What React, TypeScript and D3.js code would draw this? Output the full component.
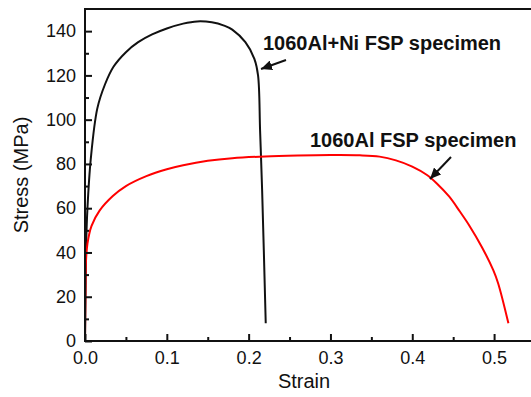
import React, { useEffect, useRef } from "react";
import * as d3 from "d3";

// 1060Al+Ni FSP specimen (strain, stress MPa)
const niStrain = [0, 0.0008, 0.0015, 0.003, 0.007, 0.015, 0.0245, 0.035, 0.05, 0.065, 0.082, 0.1, 0.12, 0.137, 0.155, 0.17, 0.18, 0.196, 0.207, 0.2115, 0.214, 0.2165, 0.2209];
const niStress = [0, 25, 45, 60, 82, 105, 116, 124, 130.5, 135, 138.5, 141.2, 143.4, 144.4, 144, 142.5, 140.7, 135, 127.5, 120, 95, 68, 8];

// 1060Al FSP specimen
const alStrain = [0, 0.0005, 0.0012, 0.003, 0.008, 0.018, 0.034, 0.05, 0.075, 0.1, 0.12, 0.15, 0.18, 0.22, 0.26, 0.3, 0.336, 0.36, 0.38, 0.4, 0.418, 0.43, 0.445, 0.458, 0.47, 0.485, 0.499, 0.505, 0.5175];
const alStress = [0, 20, 36, 44, 52, 59, 65.5, 70, 74.5, 77.6, 79.4, 81.4, 82.6, 83.4, 83.8, 84, 83.9, 83.3, 81.6, 78.8, 75, 71.2, 65.3, 58.6, 52, 42.5, 32, 26, 8];

const xTicks = [0, 0.1, 0.2, 0.3, 0.4, 0.5];
const xMinor = [0.05, 0.15, 0.25, 0.35, 0.45];
const yTicks = [0, 20, 40, 60, 80, 100, 120, 140];
const yMinor = [10, 30, 50, 70, 90, 110, 130];

const font = "'Liberation Sans', Arial, sans-serif";

const App = () => {
  const svgRef = useRef<SVGSVGElement>(null);

  useEffect(() => {
    const svg = d3.select(svgRef.current);
    svg.selectAll("*").remove();

    const x = d3.scaleLinear().domain([0, 0.55]).range([85, 535]);
    const y = d3.scaleLinear().domain([0, 150]).range([341, 9]);

    const defs = svg.append("defs");
    defs
      .append("marker")
      .attr("id", "arrow")
      .attr("markerUnits", "userSpaceOnUse")
      .attr("markerWidth", 12)
      .attr("markerHeight", 10)
      .attr("refX", 11)
      .attr("refY", 5)
      .attr("orient", "auto")
      .append("path")
      .attr("d", "M0,0 L11,5 L0,10 Z")
      .attr("fill", "#111");

    const line = d3
      .line<[number, number]>()
      .x((d) => x(d[0]))
      .y((d) => y(d[1]))
      .curve(d3.curveCatmullRom.alpha(0.5));

    const niData = niStrain.map((s, i) => [s, niStress[i]] as [number, number]);
    const alData = alStrain.map((s, i) => [s, alStress[i]] as [number, number]);

    svg
      .append("path")
      .attr("d", line(niData))
      .attr("fill", "none")
      .attr("stroke", "#111")
      .attr("stroke-width", 2);

    svg
      .append("path")
      .attr("d", line(alData))
      .attr("fill", "none")
      .attr("stroke", "#ff0000")
      .attr("stroke-width", 2);

    // frame
    svg
      .append("rect")
      .attr("x", 85)
      .attr("y", 9)
      .attr("width", 450)
      .attr("height", 332)
      .attr("fill", "none")
      .attr("stroke", "#111")
      .attr("stroke-width", 2);

    const xAxis = svg
      .append("g")
      .attr("transform", "translate(0,341)")
      .call(
        d3
          .axisBottom(x)
          .tickValues(xTicks)
          .tickSize(-7)
          .tickPadding(10)
          .tickFormat(d3.format(".1f"))
      );
    xAxis.select(".domain").remove();

    svg
      .append("g")
      .attr("transform", "translate(0,341)")
      .call(d3.axisBottom(x).tickValues(xMinor).tickSize(-4).tickFormat(() => ""))
      .select(".domain")
      .remove();

    const yAxis = svg
      .append("g")
      .attr("transform", "translate(85,0)")
      .call(d3.axisLeft(y).tickValues(yTicks).tickSize(-7).tickPadding(9));
    yAxis.select(".domain").remove();

    svg
      .append("g")
      .attr("transform", "translate(85,0)")
      .call(d3.axisLeft(y).tickValues(yMinor).tickSize(-4).tickFormat(() => ""))
      .select(".domain")
      .remove();

    svg.selectAll(".tick line").attr("stroke", "#111").attr("stroke-width", 2);
    svg
      .selectAll(".tick text")
      .attr("fill", "#111")
      .style("font-family", font)
      .style("font-size", "18px");

    svg
      .append("text")
      .attr("x", 304)
      .attr("y", 388)
      .attr("text-anchor", "middle")
      .style("font-family", font)
      .style("font-size", "20px")
      .attr("fill", "#111")
      .text("Strain");

    svg
      .append("text")
      .attr("transform", "translate(28,175) rotate(-90)")
      .attr("text-anchor", "middle")
      .style("font-family", font)
      .style("font-size", "20px")
      .attr("fill", "#111")
      .text("Stress (MPa)");

    // annotations
    svg
      .append("text")
      .attr("x", 263)
      .attr("y", 50)
      .style("font-family", font)
      .style("font-size", "20px")
      .style("font-weight", "bold")
      .attr("fill", "#111")
      .text("1060Al+Ni FSP specimen");

    svg
      .append("text")
      .attr("x", 310)
      .attr("y", 147)
      .style("font-family", font)
      .style("font-size", "20px")
      .style("font-weight", "bold")
      .attr("fill", "#111")
      .text("1060Al FSP specimen");

    svg
      .append("line")
      .attr("x1", 286)
      .attr("y1", 60)
      .attr("x2", 261)
      .attr("y2", 69)
      .attr("stroke", "#111")
      .attr("stroke-width", 2)
      .attr("marker-end", "url(#arrow)");

    svg
      .append("line")
      .attr("x1", 451)
      .attr("y1", 157)
      .attr("x2", 430)
      .attr("y2", 179)
      .attr("stroke", "#111")
      .attr("stroke-width", 2)
      .attr("marker-end", "url(#arrow)");
  }, []);

  return (
    <svg
      ref={svgRef}
      width={531}
      height={397}
      style={{ position: "absolute", left: 0, top: 0, background: "#fff" }}
    />
  );
};

export default App;
